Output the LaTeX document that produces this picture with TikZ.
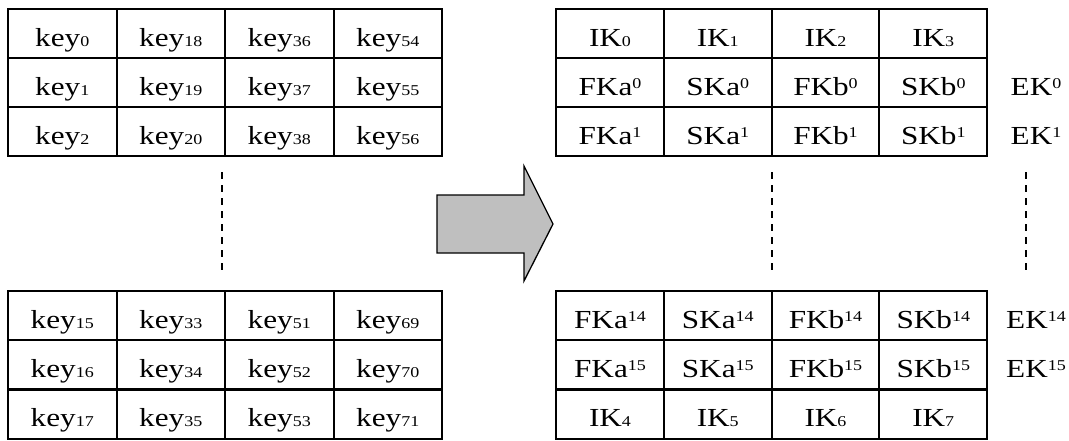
\documentclass[tikz,border=0pt]{standalone}
\usepackage{fontspec}
\setmainfont[FakeStretch=1.2]{Liberation Serif}

\newcommand{\lowidx}[1]{{\fontsize{15}{15}\selectfont #1}}
\newcommand{\upidx}[1]{\raisebox{7pt}{\fontsize{15}{15}\selectfont #1}}

\tikzset{
  cell/.style={draw, line width=2pt, minimum width=108.5pt, minimum height=49pt,
    inner sep=0pt, text height=25pt, text depth=0pt, font=\fontsize{26}{26}\selectfont},
  rcell/.style={cell, minimum width=107.75pt},
  sidelabel/.style={inner sep=0pt, text height=25pt, text depth=0pt, font=\fontsize{26}{26}\selectfont},
  gap/.style={line width=2pt, dash pattern=on 7pt off 6pt},
  bigarrow/.style={draw, line width=1.3pt, fill=gray!50}
}

\begin{document}
\begin{tikzpicture}[x=1pt,y=-1pt]
		\useasboundingbox (0,0) rectangle (1069,440);
		% key tables (left)
		\foreach \c in {0,...,3} {
			\foreach \r in {0,1,2} {
				\pgfmathtruncatemacro{\ka}{18*\c+\r}
				\pgfmathtruncatemacro{\kb}{18*\c+15+\r}
				\node[cell] (ka-\r-\c) at (62.25+108.5*\c, 33.5+49*\r) {key\lowidx{\ka}};
				\node[cell] (kb-\r-\c) at (62.25+108.5*\c, 315.5+49.3*\r) {key\lowidx{\kb}};
			}
		}
		% round keys (right)
		\foreach \nm [count=\c from 0] in {FKa,SKa,FKb,SKb} {
			\pgfmathtruncatemacro{\ikb}{\c+4}
			\node[rcell] (ra-0-\c) at (610+107.75*\c, 33.5) {IK\lowidx{\c}};
			\node[rcell] (ra-1-\c) at (610+107.75*\c, 82.5) {\nm\upidx{0}};
			\node[rcell] (ra-2-\c) at (610+107.75*\c, 131.5) {\nm\upidx{1}};
			\node[rcell] (rb-0-\c) at (610+107.75*\c, 315.5) {\nm\upidx{14}};
			\node[rcell] (rb-1-\c) at (610+107.75*\c, 364.8) {\nm\upidx{15}};
			\node[rcell] (rb-2-\c) at (610+107.75*\c, 414.1) {IK\lowidx{\ikb}};
		}
		% EK
		\node[sidelabel] (ek0) at (1036, 82.5) {EK\upidx{0}};
		\node[sidelabel] (ek1) at (1036, 131.5) {EK\upidx{1}};
		\node[sidelabel] (ek14) at (1036, 315.5) {EK\upidx{14}};
		\node[sidelabel] (ek15) at (1036, 364.8) {EK\upidx{15}};
		
		% dashed gaps
		\coordinate (lgap-top) at (222,172);
		\coordinate (lgap-bot) at (222,274);
		\coordinate (rgap-top) at (772,172);
		\coordinate (rgap-bot) at (772,274);
		\coordinate (egap-top) at (1026,172);
		\coordinate (egap-bot) at (1026,274);
		\draw[gap] (lgap-top) -- (lgap-bot);
		\draw[gap] (rgap-top) -- (rgap-bot);
		\draw[gap] (egap-top) -- (egap-bot);
		
		% arrow
		\draw[bigarrow] (437,195) -- (524,195) -- (524,166) -- (553,224) -- (524,281) -- (524,253) -- (437,253) -- cycle;
\end{tikzpicture}
\end{document}
